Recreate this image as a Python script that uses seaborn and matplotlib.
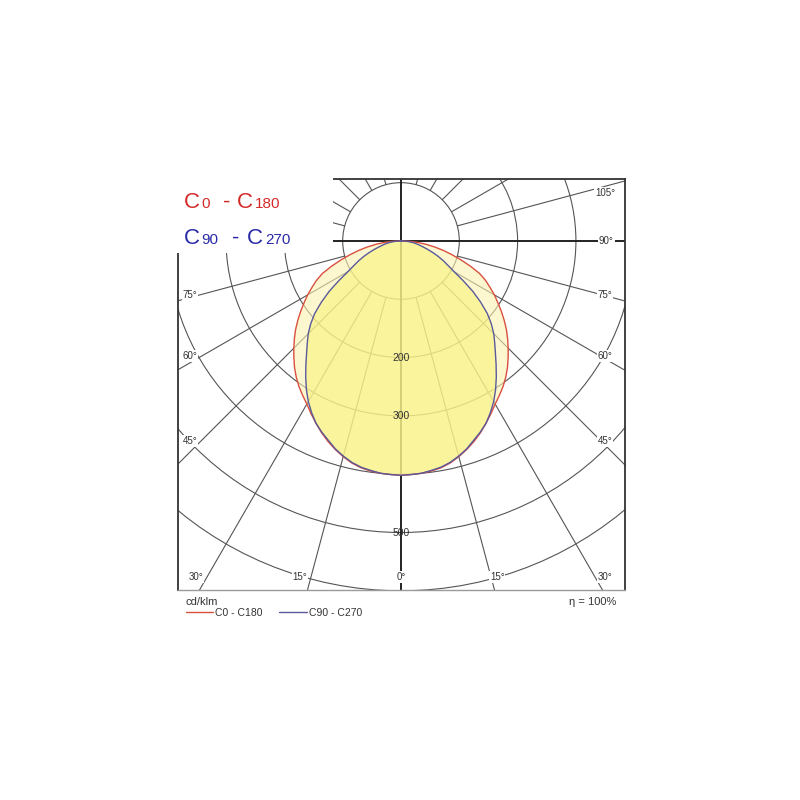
import numpy as np
import pandas as pd
import matplotlib.pyplot as plt
import seaborn as sns
from matplotlib.patches import Circle, Rectangle
from matplotlib.lines import Line2D

# Light distribution (cd/klm) per gamma angle
gamma = [0, 2.5, 5, 7.5, 10, 12.5, 15, 17.5, 20, 22.5, 25, 27.5, 30, 32.5, 35, 37.5, 40, 42.5, 45,
         47.5, 50, 52.5, 55, 57.5, 60, 62.5, 65, 67.5, 70, 72.5, 75, 77.5, 80, 82.5, 85, 87.5, 90]
c0_c180 = [402, 401, 400, 398, 395, 390, 383, 375, 366, 356, 345, 334, 323, 314, 305, 295, 284, 272, 260,
           248, 236, 223, 210, 197, 185, 172, 160, 146, 127, 108, 90, 74, 58, 43, 29, 15, 0]
c90_c270 = [402, 401, 400, 397, 394, 389, 382, 374, 364, 355, 345, 332, 318, 302, 285, 268, 252, 238, 225,
            210, 193, 172, 150, 126, 105, 91, 80, 69, 58, 48, 39, 32, 26, 20, 14, 7, 0]

ring_values = [100, 200, 300, 400, 500, 600]
ring_labels = ['200', '300', '500']
ring_label_values = [200, 300, 500]
spoke_angles = [15, 30, 45, 60, 75, 105, 120, 135, 150, 165]

red = '#d9503f'
blue = '#5a5a9c'

sns.set_style('white')
plt.rcParams['font.family'] = ['Liberation Sans', 'DejaVu Sans']

# polar -> cartesian, both halves of each plane
rows = []
for name, vals in [('C0 - C180', c0_c180), ('C90 - C270', c90_c270)]:
    g = [-a for a in gamma[::-1]] + gamma[1:]
    v = vals[::-1] + vals[1:]
    for a, i in zip(g, v):
        t = np.radians(a)
        rows.append({'curve': name, 'x': i * np.sin(t), 'y': -i * np.cos(t)})
df = pd.DataFrame(rows)

fig = plt.figure(figsize=(8, 8), dpi=100)
ax = fig.add_axes([178 / 800, 1 - 590 / 800, 447 / 800, 411 / 800])
ax.set_xlim(-382.5, 384.2)
ax.set_ylim(-598.6, 106.3)
ax.set_xticks([])
ax.set_yticks([])
for s in ax.spines.values():
    s.set_color('#333333')
    s.set_linewidth(1.3)
ax.spines['bottom'].set_color('#9a9a9a')
ax.spines['bottom'].set_linewidth(1.0)

# grid: rings and spokes
grid_c = '#555555'
for r in ring_values:
    ax.add_patch(Circle((0, 0), r, fill=False, ec=grid_c, lw=0.8, zorder=1))
for a in spoke_angles:
    t = np.radians(a)
    for sgn in (1, -1):
        ax.plot([sgn * 100 * np.sin(t), sgn * 1500 * np.sin(t)],
                [-100 * np.cos(t), -1500 * np.cos(t)], color=grid_c, lw=0.8, zorder=1)
ax.axvline(0, color='#222222', lw=1.4, zorder=1)
ax.axhline(0, color='#222222', lw=1.4, zorder=1)

# filled curves
d0 = df[df['curve'] == 'C0 - C180']
d90 = df[df['curve'] == 'C90 - C270']
ax.fill(d0['x'], d0['y'], color='#fbf3b0', alpha=0.6, lw=0, zorder=2)
ax.fill(d90['x'], d90['y'], color='#faf27a', alpha=0.58, lw=0, zorder=2.1)

sns.lineplot(data=df, x='x', y='y', hue='curve', palette={'C0 - C180': red, 'C90 - C270': blue},
             sort=False, estimator=None, legend=False, lw=1.0, ax=ax, zorder=3)
ax.set_xlabel('')
ax.set_ylabel('')

# ring values on the vertical axis
for lab, v in zip(ring_labels, ring_label_values):
    ax.text(0, -v, lab, ha='center', va='center', fontsize=7.5, color='#333333', zorder=4)

# angle labels
lab_kw = dict(fontsize=7, color='#333333', va='center', zorder=4,
              bbox=dict(facecolor='white', edgecolor='none', pad=0.6))
for txt, x, y in [('105°', 350, 82), ('90°', 352, 0), ('75°', 350, -93), ('60°', 350, -197),
                  ('45°', 350, -343), ('30°', 350, -576), ('15°', 165, -576), ('0°', 0, -576),
                  ('75°', -362, -93), ('60°', -362, -197), ('45°', -362, -343),
                  ('30°', -352, -576), ('15°', -173, -576)]:
    ax.text(x, y, txt, ha='center', **lab_kw)

# legend block top left
ax.add_patch(Rectangle((-392, -20.6), 275.4, 140, facecolor='white', edgecolor='none',
                       zorder=10, clip_on=False))


def fx(px):
    return px / 800


def fy(py):
    return 1 - py / 800


for txt, px, size in [('C', 184, 16), ('0', 201, 11), ('-', 223, 16), ('C', 237, 16), ('180', 255, 11)]:
    fig.text(fx(px), fy(208), txt, fontsize=size, color='#d42a2a', va='baseline', zorder=11)
for txt, px, size in [('C', 184, 16), ('90', 201, 11), ('-', 232, 16), ('C', 247, 16), ('270', 265, 11)]:
    fig.text(fx(px), fy(244), txt, fontsize=size, color='#2a2aa8', va='baseline', zorder=11)

# bottom legend
fig.text(fx(186), fy(605), 'cd/klm', fontsize=8, color='#333333', va='baseline')
fig.text(fx(616), fy(605), 'η = 100%', fontsize=8, color='#333333', va='baseline', ha='right')
fig.add_artist(Line2D([fx(186), fx(213)], [fy(612), fy(612)], color=red, lw=1.0))
fig.text(fx(215), fy(616), 'C0 - C180', fontsize=7.5, color='#333333', va='baseline')
fig.add_artist(Line2D([fx(279), fx(307)], [fy(612), fy(612)], color=blue, lw=1.0))
fig.text(fx(309), fy(616), 'C90 - C270', fontsize=7.5, color='#333333', va='baseline')

fig.savefig('out.png', dpi=100, facecolor='white')
